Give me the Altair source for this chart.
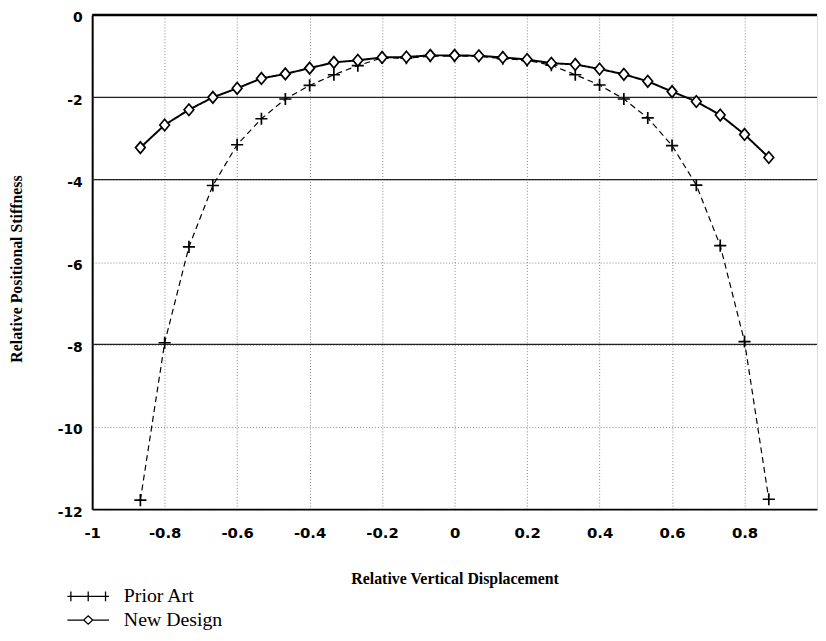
import altair as alt
import pandas as pd

# ---------------- data ----------------
x_vals = [-0.867, -0.8, -0.733, -0.667, -0.6, -0.533, -0.467, -0.4, -0.333,
          -0.267, -0.2, -0.133, -0.067, 0.0, 0.067, 0.133, 0.2, 0.267, 0.333,
          0.4, 0.467, 0.533, 0.6, 0.667, 0.733, 0.8, 0.867]
prior_art = [-11.78, -7.96, -5.63, -4.14, -3.15, -2.52, -2.04, -1.71, -1.45,
             -1.23, -1.04, -1.05, -1.0, -1.0, -1.0, -1.06, -1.1, -1.22, -1.45,
             -1.7, -2.04, -2.5, -3.17, -4.13, -5.6, -7.93, -11.76]
new_design = [-3.22, -2.67, -2.3, -2.0, -1.78, -1.54, -1.43, -1.29, -1.15,
              -1.1, -1.03, -1.02, -0.98, -0.98, -0.99, -1.03, -1.08, -1.17, -1.2,
              -1.31, -1.44, -1.61, -1.86, -2.1, -2.43, -2.9, -3.46]
series_names = ["Prior Art", "New Design"]
x_ticks = [-1, -0.8, -0.6, -0.4, -0.2, 0, 0.2, 0.4, 0.6, 0.8]
y_ticks = [-12, -10, -8, -6, -4, -2, 0]
strong_grid = [-2, -4, -8]
top_edge = [0]

df = pd.DataFrame({
    "x": x_vals + x_vals,
    "y": prior_art + new_design,
    "series": [series_names[0]] * len(x_vals) + [series_names[1]] * len(x_vals),
})

# ---------------- styles ----------------
CROSS = "M-1,0H1M0,-1V1"
DIAMOND = "M-0.8,0L0,-0.95L0.8,0L0,0.95Z"
LEG_PLUS = "M-3,0H3M-2.5,-0.7V0.7M0,-0.7V0.7M2.5,-0.7V0.7"
LEG_DIAM = "M-3,0H-0.65M0.65,0H3M-0.65,0L0,-0.6L0.65,0L0,0.6Z"
LABEL_EXPR = "datum.value < 0 ? '-' + format(-datum.value, '~g') : format(datum.value, '~g')"

xscale = alt.Scale(domain=[-1, 1], nice=False, zero=False)
yscale = alt.Scale(domain=[-12, 0], nice=False, zero=False)

x_axis = alt.Axis(
    values=x_ticks, title="Relative Vertical Displacement", ticks=False,
    labelExpr=LABEL_EXPR,
    labelFont="DejaVu Sans", labelFontWeight="bold", labelFontSize=15,
    labelColor="black", labelPadding=17, labelFlush=False, labelOverlap=False,
    titleFont="Liberation Serif", titleFontWeight="bold", titleFontSize=16,
    titleColor="black", titleY=75, titleBaseline="alphabetic",
    gridDash=[1, 2], gridColor="#888888", gridWidth=1,
    domainColor="black", domainWidth=2,
)
y_axis = alt.Axis(
    values=y_ticks, title="Relative Positional Stiffness", ticks=False,
    labelExpr=LABEL_EXPR,
    labelFont="DejaVu Sans", labelFontWeight="bold", labelFontSize=14,
    labelColor="black", labelPadding=10, labelOffset=3,
    labelFlush=False, labelOverlap=False,
    titleFont="Liberation Serif", titleFontWeight="bold", titleFontSize=16,
    titleColor="black", titleX=-68, titleY=256, titleBaseline="bottom",
    gridDash=[1, 2], gridColor="#888888", gridWidth=1,
    domainColor="black", domainWidth=2,
)

base = alt.Chart(df)

grid_rules = alt.Chart(pd.DataFrame({"y": strong_grid})).mark_rule(
    color="#222222", strokeWidth=1.3
).encode(y=alt.Y("y:Q", scale=yscale, axis=y_axis))

top_rule = alt.Chart(pd.DataFrame({"y": top_edge})).mark_rule(
    color="black", strokeWidth=2.5
).encode(y=alt.Y("y:Q", scale=yscale))

lines = base.mark_line(color="black").encode(
    x=alt.X("x:Q", scale=xscale, axis=x_axis),
    y=alt.Y("y:Q", scale=yscale),
    detail="series:N",
    strokeDash=alt.StrokeDash("series:N", scale=alt.Scale(domain=series_names, range=[[6, 4], [1, 0]]), legend=None),
    strokeWidth=alt.StrokeWidth("series:N", scale=alt.Scale(domain=series_names, range=[1.2, 2.0]), legend=None),
)

points = base.mark_point(filled=True, fill="white", stroke="black", strokeWidth=1.7, opacity=1, size=150).encode(
    x=alt.X("x:Q", scale=xscale),
    y=alt.Y("y:Q", scale=yscale),
    shape=alt.Shape("series:N", scale=alt.Scale(domain=series_names, range=[CROSS, DIAMOND]), legend=None),
)

legend_layer = base.mark_point(opacity=0).encode(
    x=alt.X("x:Q", scale=xscale),
    y=alt.Y("y:Q", scale=yscale),
    shape=alt.Shape(
        "series:N",
        scale=alt.Scale(domain=series_names, range=[LEG_PLUS, LEG_DIAM]),
        legend=alt.Legend(
            title=None, orient="none", legendX=-28, legendY=577, direction="vertical",
            labelFont="Liberation Serif", labelFontSize=20, labelColor="black",
            symbolSize=196, symbolStrokeColor="black", symbolFillColor="white",
            symbolStrokeWidth=1.3, symbolOpacity=1, symbolOffset=14,
            labelOffset=26, rowPadding=4, padding=0,
        ),
    ),
)

chart = alt.layer(grid_rules, top_rule, lines, points, legend_layer).resolve_scale(
    shape="independent"
).properties(
    width=732, height=499,
    autosize=alt.AutoSizeParams(type="none"),
    padding={"left": 85, "top": 4, "right": 1, "bottom": 122},
).configure_view(stroke=None).configure(background="white")

chart.save("out.html", embed_options={"renderer": "svg", "actions": False})
